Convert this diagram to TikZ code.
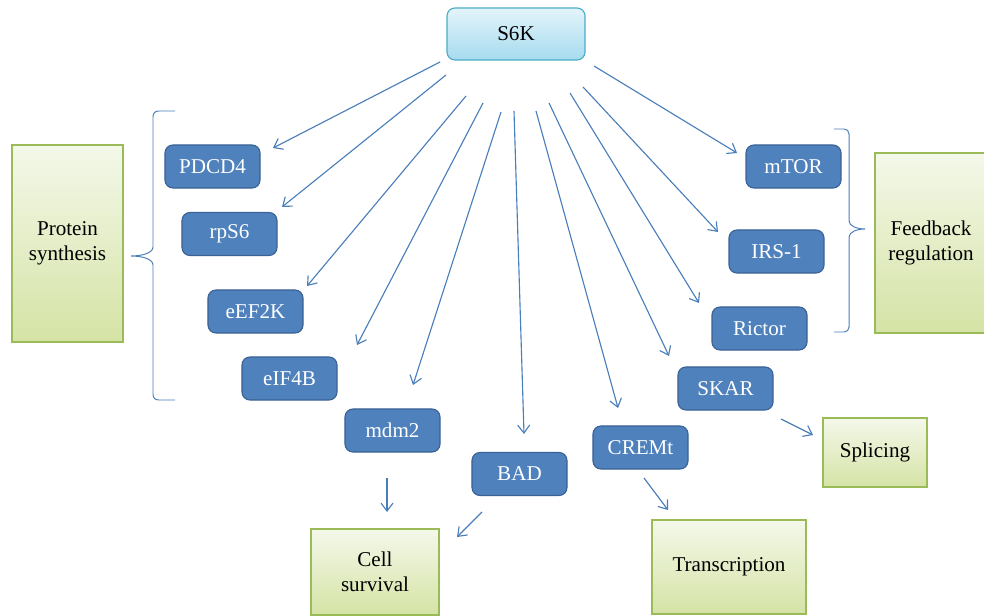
\documentclass[tikz,border=0pt]{standalone}
\usepackage{fontspec}
\setmainfont{Liberation Serif}
\usetikzlibrary{arrows.meta}
\definecolor{boxblue}{HTML}{4F81BD}
\definecolor{boxline}{HTML}{3A6294}
\definecolor{arrblue}{HTML}{4A7EBB}
\definecolor{leaftop}{HTML}{F4F8EA}
\definecolor{leafbot}{HTML}{D5E3A5}
\definecolor{leafline}{HTML}{9BBB59}
\definecolor{hubtop}{HTML}{E3F4FA}
\definecolor{hubbot}{HTML}{A6DBEE}
\definecolor{hubline}{HTML}{4BACC6}
\begin{document}
\begin{tikzpicture}[x=0.025cm, y=-0.025cm, line width=0.8pt,
	hub/.style = {draw=hubline, top color=hubtop, bottom color=hubbot, rounded corners=0.2cm, minimum width=3.45cm, minimum height=1.3cm, font=\fontsize{15}{18}\selectfont},
	target/.style = {draw=boxline, fill=boxblue, rounded corners=0.2cm, minimum width=2.375cm, minimum height=1.075cm, text=white, font=\fontsize{15}{18}\selectfont},
	effect/.style = {draw=leafline, top color=leaftop, bottom color=leafbot, align=center, inner sep=0pt, font=\fontsize{15}{18}\selectfont},
	arr/.style = {draw=arrblue, -{Straight Barb[length=2mm,width=3mm]}},
	curly/.style = {draw=arrblue, line width=0.7pt}]

		\useasboundingbox (0,0) rectangle (984,616);

		\node[hub] (s6k) at (516,34) {S6K};

		\node[target] (pdcd4) at (212.5,166.5) {PDCD4};
		\node[target] (rps6) at (229.5,234) {rpS6};
		\node[target] (eef2k) at (255.5,311.5) {eEF2K};
		\node[target] (eif4b) at (289.5,378.5) {eIF4B};
		\node[target] (mdm2) at (392.5,430.5) {mdm2};
		\node[target] (bad) at (519.5,474) {BAD};
		\node[target] (cremt) at (640.5,447.5) {CREMt};
		\node[target] (skar) at (725.5,388.5) {SKAR};
		\node[target] (rictor) at (759.5,328.5) {Rictor};
		\node[target] (irs1) at (776.5,251.5) {IRS-1};
		\node[target] (mtor) at (793.5,166.5) {mTOR};

		\node[effect, minimum width=2.775cm, minimum height=4.925cm] (protein) at (67.5,243.5) {Protein\\synthesis};
		\node[effect, minimum width=2.8cm, minimum height=4.5cm] (feedback) at (931,243) {Feedback\\regulation};
		\node[effect, minimum width=2.6cm, minimum height=1.725cm] (splicing) at (875,452.5) {Splicing};
		\node[effect, minimum width=3.2cm, minimum height=2.15cm] (survival) at (375,572) {Cell\\survival};
		\node[effect, minimum width=3.85cm, minimum height=2.35cm] (transcription) at (729,567) {Transcription};

		\coordinate (s6k-pdcd4) at (440,62);
		\coordinate (s6k-rps6) at (446,75);
		\coordinate (s6k-eef2k) at (466,96);
		\coordinate (s6k-eif4b) at (483,103);
		\coordinate (s6k-mdm2) at (501,112);
		\coordinate (s6k-bad) at (514,111);
		\coordinate (s6k-cremt) at (536,111);
		\coordinate (s6k-skar) at (549,103);
		\coordinate (s6k-rictor) at (570,93);
		\coordinate (s6k-irs1) at (583,87);
		\coordinate (s6k-mtor) at (594,66);

		\coordinate (pdcd4-in) at (273,148);
		\coordinate (rps6-in) at (282,207);
		\coordinate (eef2k-in) at (307,286);
		\coordinate (eif4b-in) at (357,345);
		\coordinate (mdm2-in) at (413,385);
		\coordinate (bad-in) at (524,434);
		\coordinate (cremt-in) at (618,408);
		\coordinate (skar-in) at (669,356);
		\coordinate (rictor-in) at (699,303);
		\coordinate (irs1-in) at (718,232);
		\coordinate (mtor-in) at (737,153);

		\draw[arr] (s6k-pdcd4) to (pdcd4-in);
		\draw[arr] (s6k-rps6) to (rps6-in);
		\draw[arr] (s6k-eef2k) to (eef2k-in);
		\draw[arr] (s6k-eif4b) to (eif4b-in);
		\draw[arr] (s6k-mdm2) to (mdm2-in);
		\draw[arr] (s6k-bad) to (bad-in);
		\draw[arr] (s6k-cremt) to (cremt-in);
		\draw[arr] (s6k-skar) to (skar-in);
		\draw[arr] (s6k-rictor) to (rictor-in);
		\draw[arr] (s6k-irs1) to (irs1-in);
		\draw[arr] (s6k-mtor) to (mtor-in);

		\coordinate (mdm2-out) at (387,478);
		\coordinate (bad-out) at (482,512);
		\coordinate (cremt-out) at (644,478);
		\coordinate (skar-out) at (781,419);
		\coordinate (survival-in1) at (387,512);
		\coordinate (survival-in2) at (457,537);
		\coordinate (transcription-in) at (668,510);
		\coordinate (splicing-in) at (813,435);

		\draw[arr] (mdm2-out) to (survival-in1);
		\draw[arr] (bad-out) to (survival-in2);
		\draw[arr] (cremt-out) to (transcription-in);
		\draw[arr] (skar-out) to (splicing-in);

		\draw[curly] (175,111) -- (159,111) .. controls (155,111) and (153,113) .. (153,117) -- (153,247)
			.. controls (153,253) and (142,256) .. (131,256) .. controls (142,256) and (153,259) .. (153,265)
			-- (153,394) .. controls (153,398) and (155,400) .. (159,400) -- (175,400);
		\draw[curly] (834,129) -- (844,129) .. controls (847,129) and (849,131) .. (849,134) -- (849,221)
			.. controls (849,226) and (857,229) .. (865,229) .. controls (857,229) and (849,232) .. (849,237)
			-- (849,327) .. controls (849,330) and (847,332) .. (844,332) -- (834,332);
	\end{tikzpicture}
\end{document}
